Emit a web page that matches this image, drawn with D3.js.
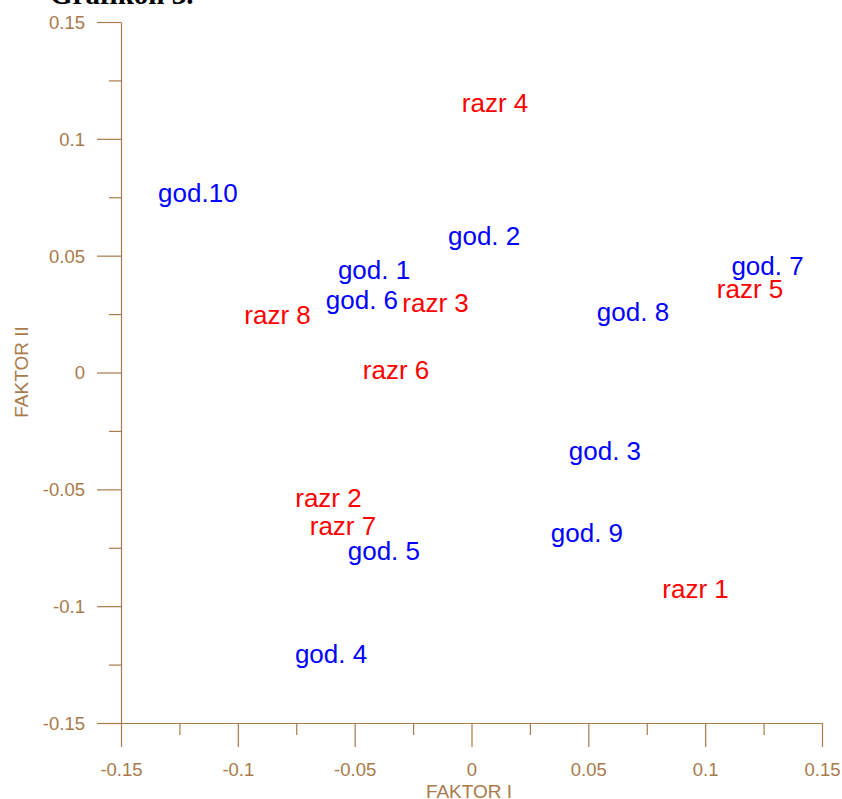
<!DOCTYPE html>
<html>
<head>
<meta charset="utf-8">
<script src="https://cdn.jsdelivr.net/npm/d3@7"></script>
<style>
  html, body { margin: 0; padding: 0; background: #fff; }
  svg { display: block; }
</style>
</head>
<body>
<svg id="chart" width="842" height="799"></svg>
<script>
// ---- data ----
const labels  = ["razr 4","god.10","god. 2","god. 1","god. 6","razr 3","razr 8","razr 6","god. 7","razr 5","god. 8","god. 3","razr 2","razr 7","god. 5","god. 9","razr 1","god. 4"];
const factor1 = [0.0101,-0.1171,0.0054,-0.0417,-0.0469,-0.0154,-0.0830,-0.0323,0.1267,0.1192,0.0691,0.0571,-0.0612,-0.0550,-0.0375,0.0494,0.0959,-0.0601];
const factor2 = [0.1154,0.0768,0.0584,0.0439,0.0310,0.0297,0.0246,0.0011,0.0456,0.0357,0.0259,-0.0336,-0.0537,-0.0657,-0.0764,-0.0687,-0.0927,-0.1205];
const groups  = ["razr","god","god","god","god","razr","razr","razr","god","razr","god","god","razr","razr","god","god","razr","god"];
const majorTicks = [-0.15,-0.1,-0.05,0,0.05,0.1,0.15];
const minorTicks = [-0.125,-0.075,-0.025,0.025,0.075,0.125];
const tickLabels = ["-0.15","-0.1","-0.05","0","0.05","0.1","0.15"];

(function () {
// ---- layout ----
const svg = d3.select("#chart");
const axisColor = "#a87a4c";
const mLeft = 121, mRight = 822, mTop = 22, mBottom = 723;

const x = d3.scaleLinear().domain([-0.15, 0.15]).range([mLeft, mRight]);
const y = d3.scaleLinear().domain([-0.15, 0.15]).range([mBottom, mTop]);
const colorOf = d3.scaleOrdinal().domain(["razr","god"]).range(["#ff0000","#0000ff"]);

// title (partly cut off at top)
svg.append("text")
  .attr("x", 50).attr("y", 4)
  .attr("font-family", "Liberation Serif, Times New Roman, serif")
  .attr("font-weight", "bold")
  .attr("font-size", 29)
  .attr("fill", "#000")
  .text("Grafikon 3.");

// x axis
const xAxis = svg.append("g").attr("transform", `translate(0,${mBottom})`);
xAxis.call(d3.axisBottom(x).tickValues(majorTicks).tickSize(24).tickSizeOuter(0)
  .tickFormat((d, i) => tickLabels[i]));
xAxis.append("g").call(d3.axisBottom(x).tickValues(minorTicks).tickSize(12).tickFormat(""))
  .select(".domain").remove();

// y axis
const yAxis = svg.append("g").attr("transform", `translate(${mLeft},0)`);
yAxis.call(d3.axisLeft(y).tickValues(majorTicks).tickSize(24).tickSizeOuter(0)
  .tickFormat((d, i) => tickLabels[i]));
yAxis.append("g").call(d3.axisLeft(y).tickValues(minorTicks).tickSize(12).tickFormat(""))
  .select(".domain").remove();

[xAxis, yAxis].forEach(g => {
  g.selectAll("path, line").attr("stroke", axisColor).attr("stroke-width", 1.2);
  g.selectAll("text")
    .attr("fill", axisColor)
    .attr("font-family", "Liberation Sans, Arial, sans-serif")
    .attr("font-size", 18.5);
});
xAxis.selectAll("text").attr("dy", null).attr("y", 53);
yAxis.selectAll("text").attr("x", -36).attr("dy", "0.35em");

// axis titles
svg.append("text")
  .attr("x", 469).attr("y", 798)
  .attr("text-anchor", "middle")
  .attr("font-family", "Liberation Sans, Arial, sans-serif")
  .attr("font-size", 19)
  .attr("fill", axisColor)
  .text("FAKTOR I");

svg.append("text")
  .attr("transform", `translate(28,372) rotate(-90)`)
  .attr("text-anchor", "middle")
  .attr("font-family", "Liberation Sans, Arial, sans-serif")
  .attr("font-size", 19)
  .attr("fill", axisColor)
  .text("FAKTOR II");

// point labels
svg.append("g").selectAll("text")
  .data(labels.map((l, i) => ({ l, fx: factor1[i], fy: factor2[i], g: groups[i] })))
  .join("text")
  .attr("x", d => x(d.fx))
  .attr("y", d => y(d.fy))
  .attr("dy", "0.35em")
  .attr("text-anchor", "middle")
  .attr("font-family", "Liberation Sans, Arial, sans-serif")
  .attr("font-size", 26)
  .attr("fill", d => colorOf(d.g))
  .text(d => d.l);
})();
</script>
</body>
</html>
